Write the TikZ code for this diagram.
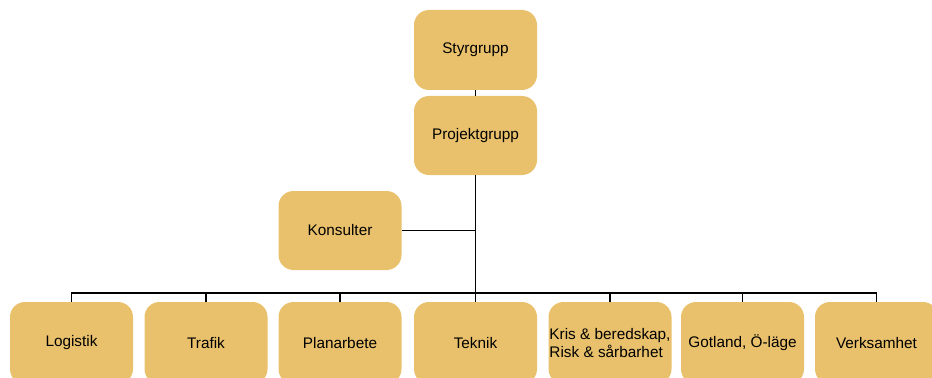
\documentclass[tikz,border=0pt]{standalone}
\usepackage{fontspec}
\setmainfont{Liberation Sans}
\definecolor{boxfill}{HTML}{E9C16C}
\begin{document}
\begin{tikzpicture}[x=0.75pt,y=-0.75pt,
  orgbox/.style={fill=boxfill,draw=none,rounded corners=11.25pt,
    minimum width=92.25pt,minimum height=59.25pt,inner sep=0pt,
    font=\fontsize{11.5pt}{13.5pt}\selectfont,text=black},
  lowbox/.style={orgbox,minimum height=61.5pt},
  conn/.style={draw=black,line width=1.1pt}]
\useasboundingbox (0,0) rectangle (932,378);
\node[orgbox,minimum height=60pt] (sty) at (475.5,50) {Styrgrupp};
\node[orgbox] (proj) at (475.5,135.5) {Projektgrupp};
\node[orgbox] (kon) at (340,230.5) {Konsulter};
\node[lowbox] (log) at (71.5,343) {Logistik};
\node[lowbox] (tra) at (206,343) {Trafik};
\node[lowbox] (pla) at (340,343) {Planarbete};
\node[lowbox] (tek) at (475.5,343) {Teknik};
\node[lowbox,align=left] (kri) at (610,343) {Kris \& beredskap,\\Risk \& sårbarhet};
\node[lowbox] (got) at (742.5,343) {Gotland, Ö-läge};
\node[lowbox] (ver) at (876.5,343) {Verksamhet};
\coordinate (bus) at (475.5,293);
\draw[conn] (sty.south) -- (proj.north);
\draw[conn] (proj.south) -- (tek.north);
\draw[conn] (kon.east) -- (kon.east -| proj.south);
\draw[conn] (log.north) -- (log.north |- bus) -- (ver.north |- bus) -- (ver.north);
\foreach \b in {tra,pla,kri,got}{
  \draw[conn] (\b.north) -- (\b.north |- bus);
}
\end{tikzpicture}
\end{document}
